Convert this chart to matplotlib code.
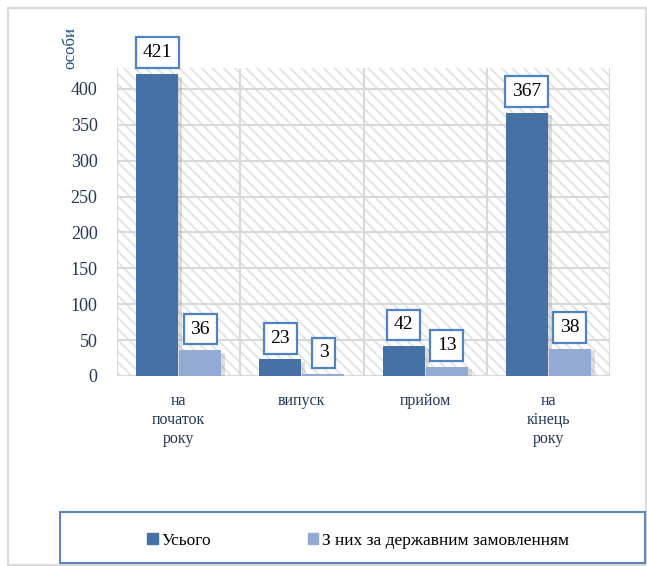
import matplotlib
matplotlib.use("Agg")
import matplotlib.pyplot as plt
import matplotlib.patheffects as pe
from matplotlib.patches import Rectangle, Patch
import numpy as np

categories = ["на\nпочаток\nроку", "випуск", "прийом", "на\nкінець\nроку"]
total = [421, 23, 42, 367]
state_order = [36, 3, 13, 38]
series_names = ["Усього", "З них за державним замовленням"]
yticks = [0, 50, 100, 150, 200, 250, 300, 350, 400]

dark = "#4571a5"
light = "#93aad4"
box_edge = "#4f81c4"
grid_c = "#d9d9d9"
text_c = "#243757"

plt.rcParams["font.family"] = ["Liberation Serif", "DejaVu Serif"]
plt.rcParams["hatch.color"] = "#e2e2e2"
plt.rcParams["hatch.linewidth"] = 1.3

W, H = 647, 566
fig = plt.figure(figsize=(W / 100, H / 100), dpi=100)

# outer frame
fig.patches.append(Rectangle((8 / W, 1 / H), (W - 9) / W, (H - 9) / H,
                             transform=fig.transFigure, fill=False,
                             edgecolor="#d9d9d9", lw=1.5))

ax = fig.add_axes([117 / W, 1 - 376 / H, (610 - 117) / W, (376 - 68) / H])
ax.set_xlim(-0.5, 3.5)
ax.set_ylim(0, 429)

# hatched background
ax.add_patch(Rectangle((0, 0), 1, 1, transform=ax.transAxes, facecolor="white",
                       hatch="\\\\\\", edgecolor="#e2e2e2", lw=0, zorder=0))

for y in yticks:
    ax.axhline(y, color=grid_c, lw=1.5, zorder=1)
for xv in np.arange(-0.5, 4.0, 1.0):
    ax.axvline(xv, color=grid_c, lw=1.5, zorder=1)

x = np.arange(len(categories))
w = 0.34
shadow = [pe.SimplePatchShadow(offset=(3, -2), shadow_rgbFace="#909090", alpha=0.3), pe.Normal()]
b1 = ax.bar(x - w / 2 - 0.005, total, w, color=dark, zorder=3)
b2 = ax.bar(x + w / 2 + 0.005, state_order, w, color=light, zorder=3)
for b in list(b1) + list(b2):
    b.set_path_effects(shadow)

for bars, vals in ((b1, total), (b2, state_order)):
    for b, v in zip(bars, vals):
        ax.annotate(str(v), (b.get_x() + b.get_width() / 2, v),
                    xytext=(0, 9), textcoords="offset points",
                    ha="center", va="bottom", fontsize=14, color="black", zorder=5,
                    bbox=dict(boxstyle="square,pad=0.35", facecolor="white",
                              edgecolor=box_edge, lw=1.6))

ax.set_xticks(x)
ax.set_xticklabels(categories, fontsize=11.5, color=text_c, linespacing=1.25)
ax.set_yticks(yticks)
ax.set_yticklabels([str(t) for t in yticks], fontsize=13, color=text_c)
ax.tick_params(length=0, axis="both")
ax.tick_params(axis="x", pad=12)
ax.tick_params(axis="y", pad=14)
for s in ax.spines.values():
    s.set_visible(False)

fig.text(70 / W, 1 - 48 / H, "особи", rotation=90, ha="center", va="center",
         fontsize=12, color="#1f4e79")

# legend box
fig.patches.append(Rectangle((60 / W, 1 - 563 / H), (645 - 60) / W, (563 - 512) / H,
                             transform=fig.transFigure, fill=False,
                             edgecolor="#5b87c5", lw=1.5))
handles = [Patch(color=dark), Patch(color=light)]
fig.legend(handles=handles, labels=series_names, loc="center",
           bbox_to_anchor=(358 / W, 1 - 541 / H), ncol=2, frameon=False,
           fontsize=12.5, handlelength=0.6, handleheight=0.6, handletextpad=0.2,
           columnspacing=5.6, labelcolor="black")

fig.savefig("out.png", dpi=100)
